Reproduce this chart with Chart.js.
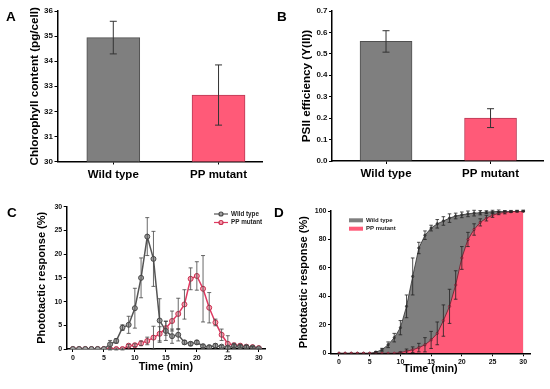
<!DOCTYPE html>
<html>
<head>
<meta charset="utf-8">
<script src="https://cdn.jsdelivr.net/npm/chart.js@4.4.0/dist/chart.umd.min.js"></script>
<style>
    body { margin: 0; background: #fff; width: 550px; height: 389px; position: relative; overflow: hidden; font-family: "Liberation Sans", Arial, sans-serif; }
    .panel { position: absolute; width: 275px; }
    .letter { position: absolute; font-weight: bold; font-size: 13.5px; line-height: 1; color: #000; }
</style>
</head>
<body>
<div class="panel" style="left:0;top:0;height:195px"><canvas id="chart-a"></canvas></div>
<div class="panel" style="left:275px;top:0;height:195px"><canvas id="chart-b"></canvas></div>
<div class="panel" style="left:0;top:195px;height:194px"><canvas id="chart-c"></canvas></div>
<div class="panel" style="left:275px;top:195px;height:194px"><canvas id="chart-d"></canvas></div>
<div class="letter" style="left:6px;top:10px">A</div>
<div class="letter" style="left:277px;top:10px">B</div>
<div class="letter" style="left:7px;top:206px">C</div>
<div class="letter" style="left:274px;top:206px">D</div>
<script>
// bar panels
const categories = ['Wild type', 'PP mutant'];
const chlorophyll = [34.94, 32.65];
const chlorophyllErr = [0.65, 1.2];
const chlorophyllTicks = [30, 31, 32, 33, 34, 35, 36];
const psiiEfficiency = [0.558, 0.2];
const psiiErr = [0.05, 0.044];
const psiiTicks = [0, 0.1, 0.2, 0.3, 0.4, 0.5, 0.6, 0.7];

// time course panels
const minutes = [0, 1, 2, 3, 4, 5, 6, 7, 8, 9, 10, 11, 12, 13, 14, 15, 16, 17, 18, 19, 20, 21, 22, 23, 24, 25, 26, 27, 28, 29, 30];
const timeTicks = [0, 5, 10, 15, 20, 25, 30];
const responseTicks = [0, 5, 10, 15, 20, 25, 30];
const cumulativeTicks = [0, 20, 40, 60, 80, 100];

const responseWild = [0, 0, 0, 0, 0, 0, 1.0, 1.7, 4.5, 5.1, 8.6, 15.0, 23.7, 19.0, 6.0, 3.8, 2.7, 3.0, 1.4, 1.1, 1.4, 0.6, 0.4, 0.7, 0.5, 0.3, 0.6, 0.5, 0.4, 0.3, 0.1];
const responseWildErr = [0, 0, 0, 0, 0, 0, 0.8, 0.5, 0.6, 1.8, 4.2, 4.2, 4.0, 5.8, 4.6, 2.0, 1.5, 1.3, 0.4, 0.4, 0.4, 0.3, 0.3, 0.4, 0.3, 0.3, 0.3, 0.3, 0.3, 0.2, 0.1];
const responsePP = [0, 0, 0, 0, 0, 0, 0, 0, 0, 0.7, 0.8, 1.2, 1.7, 2.4, 3.2, 4.4, 5.9, 7.4, 9.4, 14.8, 15.4, 12.7, 8.7, 5.6, 3.0, 1.1, 0.8, 0.7, 0.5, 0.4, 0.2];
const responsePPErr = [0, 0, 0, 0, 0, 0, 0.2, 0.2, 0.2, 0.3, 0.3, 0.5, 0.8, 2.4, 1.5, 1.5, 2.1, 3.3, 3.1, 2.3, 3.0, 7.0, 3.2, 0.7, 1.2, 1.7, 0.4, 0.3, 0.3, 0.2, 0];

const cumulativeWild = [0, 0, 0, 0, 0, 0, 0.8, 2.5, 6, 11, 18, 33, 54, 74, 83, 88, 91, 93, 95, 96.5, 97.3, 98, 98.5, 98.8, 99.2, 99.5, 99.7, 99.8, 99.9, 100, 100];
const cumulativeWildErr = [0, 0, 0, 0, 0, 0, 0.5, 1, 2, 3, 5, 8, 13, 4, 3, 2, 3, 3, 3, 2, 2, 2, 2, 1.5, 1, 1, 1, 0.5, 0.5, 0.5, 0.5];
const cumulativePP = [0, 0, 0, 0, 0, 0, 0, 0, 0, 0, 0.5, 1.5, 2.5, 4, 6, 9.4, 14, 23, 33, 48, 67, 80, 87, 92, 95, 97, 98.4, 99, 99.5, 99.8, 100];
const cumulativePPErr = [0, 0, 0, 0, 0, 0, 0, 0, 0, 0, 0.5, 1.5, 2, 3, 5, 6, 8, 11, 12, 10, 8, 5, 4, 2.5, 2, 1.5, 1, 1, 0.5, 0.5, 0.5];

const gray = '#7f7f7f';
const pink = '#ff5a78';
const fontFamily = '"Liberation Sans", Arial, sans-serif';

Chart.defaults.font.family = fontFamily;
Chart.defaults.font.weight = 'bold';
Chart.defaults.color = '#111';

// draws the +/- bars on top of the datasets
const errorBars = {
    id: 'errorBars',
    afterDatasetsDraw(chart, args, opts) {
        const ctx = chart.ctx;
        const yScale = chart.scales.y;
        chart.data.datasets.forEach((ds, i) => {
            if (!ds.errors) {
                return;
            }
            const meta = chart.getDatasetMeta(i);
            ctx.save();
            ctx.strokeStyle = opts.color || '#222';
            ctx.lineWidth = opts.lineWidth || 1;
            meta.data.forEach((el, j) => {
                const err = ds.errors[j];
                if (!err) {
                    return;
                }
                const value = ds.data[j].y;
                const top = yScale.getPixelForValue(value + err);
                const bottom = yScale.getPixelForValue(value - err);
                const cap = opts.cap || 2;
                ctx.beginPath();
                ctx.moveTo(el.x, top);
                ctx.lineTo(el.x, bottom);
                ctx.moveTo(el.x - cap, top);
                ctx.lineTo(el.x + cap, top);
                ctx.moveTo(el.x - cap, bottom);
                ctx.lineTo(el.x + cap, bottom);
                ctx.stroke();
            });
            ctx.restore();
        });
    }
};

// small legend in the corner of the plot
const panelLegend = {
    id: 'panelLegend',
    afterDraw(chart, args, opts) {
        const ctx = chart.ctx;
        ctx.save();
        ctx.font = 'bold ' + opts.fontSize + 'px ' + fontFamily;
        ctx.textBaseline = 'middle';
        ctx.fillStyle = '#222';
        chart.data.datasets.forEach((ds, i) => {
            const y = opts.y + i * opts.gap;
            if (opts.style === 'line') {
                ctx.strokeStyle = ds.borderColor;
                ctx.lineWidth = 1.2;
                ctx.beginPath();
                ctx.moveTo(opts.x, y);
                ctx.lineTo(opts.x + 14, y);
                ctx.stroke();
                ctx.beginPath();
                ctx.arc(opts.x + 7, y, 2, 0, Math.PI * 2);
                ctx.fillStyle = ds.pointBackgroundColor;
                ctx.fill();
                ctx.strokeStyle = ds.pointBorderColor;
                ctx.stroke();
            } else {
                ctx.fillStyle = ds.backgroundColor;
                ctx.fillRect(opts.x, y - 2, 14, 4);
            }
            ctx.fillStyle = '#222';
            ctx.fillText(ds.label, opts.x + 17, y);
        });
        ctx.restore();
    }
};

function yAxis(min, max, ticks, title, titlePad, width, fontSize, titleSize, fmt) {
    return {
        type: 'linear',
        min: min,
        max: max,
        afterBuildTicks: (scale) => {
            scale.ticks = ticks.map((v) => ({value: v}));
        },
        afterFit: (scale) => {
            scale.width = width;
        },
        border: {color: '#000', width: 1.5},
        grid: {drawOnChartArea: false, tickLength: 3, color: '#000', lineWidth: 1},
        ticks: {padding: 1.5, font: {size: fontSize, weight: 'bold'}, callback: fmt},
        title: {display: true, text: title, color: '#000', padding: {top: titlePad, bottom: 0}, font: {size: titleSize, weight: 'bold'}}
    };
}

function barChart(id, values, errors, yOpts, xMin, xMax, barWidth, pad) {
    return new Chart(document.getElementById(id), {
        type: 'bar',
        data: {
            datasets: [{
                data: values.map((v, i) => ({x: i + 1, y: v})),
                errors: errors,
                backgroundColor: [gray, pink],
                borderColor: ['#505050', '#b83a55'],
                borderWidth: 1,
                barThickness: barWidth
            }]
        },
        options: {
            responsive: true,
            maintainAspectRatio: false,
            animation: false,
            layout: {padding: pad},
            plugins: {legend: {display: false}, tooltip: {enabled: false}, errorBars: {cap: 3.5, lineWidth: 1, color: '#333'}},
            scales: {
                x: {
                    type: 'linear',
                    offset: false,
                    min: xMin,
                    max: xMax,
                    afterBuildTicks: (scale) => {
                        scale.ticks = categories.map((c, i) => ({value: i + 1}));
                    },
                    afterFit: (scale) => {
                        scale.height = pad.xHeight;
                    },
                    border: {color: '#000', width: 1.5},
                    grid: {offset: false, drawOnChartArea: false, tickLength: 3, color: '#000'},
                    ticks: {padding: 3, color: '#000', font: {size: 11.5, weight: 'bold'}, callback: (v) => categories[Math.round(v) - 1]}
                },
                y: yOpts
            }
        },
        plugins: [errorBars]
    });
}

function timeAxis(xHeight, titlePad, xMin, xMax) {
    return {
        type: 'linear',
        min: xMin,
        max: xMax,
        afterBuildTicks: (scale) => {
            scale.ticks = timeTicks.map((v) => ({value: v}));
        },
        afterFit: (scale) => {
            scale.height = xHeight;
        },
        border: {color: '#000', width: 1.5},
        grid: {drawOnChartArea: false, tickLength: 3, color: '#000'},
        ticks: {padding: 2, font: {size: 7, weight: 'bold'}},
        title: {display: true, text: 'Time (min)', color: '#000', padding: {top: 0, bottom: titlePad}, font: {size: 10.8, weight: 'bold'}}
    };
}

function points(values) {
    return values.map((v, i) => ({x: minutes[i], y: v}));
}

barChart('chart-a', chlorophyll, chlorophyllErr,
    yAxis(30, 36, chlorophyllTicks, 'Chlorophyll content (pg/cell)', 27.5, 57.5, 8, 11.7, (v) => v),
    0.47, 2.413, 53, {top: 11, right: 13, left: 0, bottom: 0, xHeight: 33.5});

barChart('chart-b', psiiEfficiency, psiiErr,
    yAxis(0, 0.7, psiiTicks, 'PSII efficiency (Y(II))', 24.5, 57, 8, 11.7, (v) => v.toFixed(1)),
    0.483, 2.502, 52, {top: 11, right: 7, left: 0, bottom: 0, xHeight: 34});

new Chart(document.getElementById('chart-c'), {
    type: 'line',
    data: {
        datasets: [{
            label: 'Wild type',
            data: points(responseWild),
            errors: responseWildErr,
            borderColor: '#555555',
            borderWidth: 1.5,
            pointRadius: 2.5,
            pointBorderWidth: 1,
            pointBackgroundColor: '#a0a0a0',
            pointBorderColor: '#4a4a4a'
        }, {
            label: 'PP mutant',
            data: points(responsePP),
            errors: responsePPErr,
            borderColor: '#e03a62',
            borderWidth: 1.5,
            pointRadius: 2.5,
            pointBorderWidth: 1,
            pointBackgroundColor: '#f7a0b2',
            pointBorderColor: '#c8304f'
        }]
    },
    options: {
        responsive: true,
        maintainAspectRatio: false,
        animation: false,
        layout: {padding: {top: 11.7, right: 10, left: 0, bottom: 0}},
        plugins: {
            legend: {display: false},
            tooltip: {enabled: false},
            errorBars: {cap: 2, lineWidth: 0.8, color: '#444'},
            panelLegend: {style: 'line', x: 214, y: 19, gap: 8.5, fontSize: 6.3}
        },
        scales: {
            x: timeAxis(40, 15.4, -1, 31),
            y: yAxis(0, 30, responseTicks, 'Phototactic response (%)', 35.3, 66.7, 7, 11, (v) => v)
        }
    },
    plugins: [errorBars, panelLegend]
});

new Chart(document.getElementById('chart-d'), {
    type: 'line',
    data: {
        datasets: [{
            label: 'Wild type',
            data: points(cumulativeWild),
            errors: cumulativeWildErr,
            order: 1,
            fill: 'origin',
            backgroundColor: gray,
            borderColor: '#2e2e2e',
            borderWidth: 0.8,
            pointRadius: 1.2,
            pointBorderWidth: 0.6,
            pointBackgroundColor: '#555555',
            pointBorderColor: '#2e2e2e'
        }, {
            label: 'PP mutant',
            data: points(cumulativePP),
            errors: cumulativePPErr,
            order: 0,
            fill: 'origin',
            backgroundColor: pink,
            borderColor: '#6a1a2a',
            borderWidth: 0.8,
            pointRadius: 1.2,
            pointBorderWidth: 0.6,
            pointBackgroundColor: '#e8506e',
            pointBorderColor: '#6a1a2a'
        }]
    },
    options: {
        responsive: true,
        maintainAspectRatio: false,
        animation: false,
        layout: {padding: {top: 16, right: 20, left: 0, bottom: 0}},
        plugins: {
            legend: {display: false},
            tooltip: {enabled: false},
            filler: {propagate: false},
            errorBars: {cap: 1.8, lineWidth: 0.8, color: '#222'},
            panelLegend: {style: 'box', x: 74, y: 25.3, gap: 8.4, fontSize: 6}
        },
        scales: {
            x: timeAxis(35.7, 13.4, -1.3, 31.1),
            y: yAxis(0, 100, cumulativeTicks, 'Phototactic response (%)', 22.8, 56, 7, 11, (v) => v)
        }
    },
    plugins: [errorBars, panelLegend]
});
</script>
</body>
</html>
